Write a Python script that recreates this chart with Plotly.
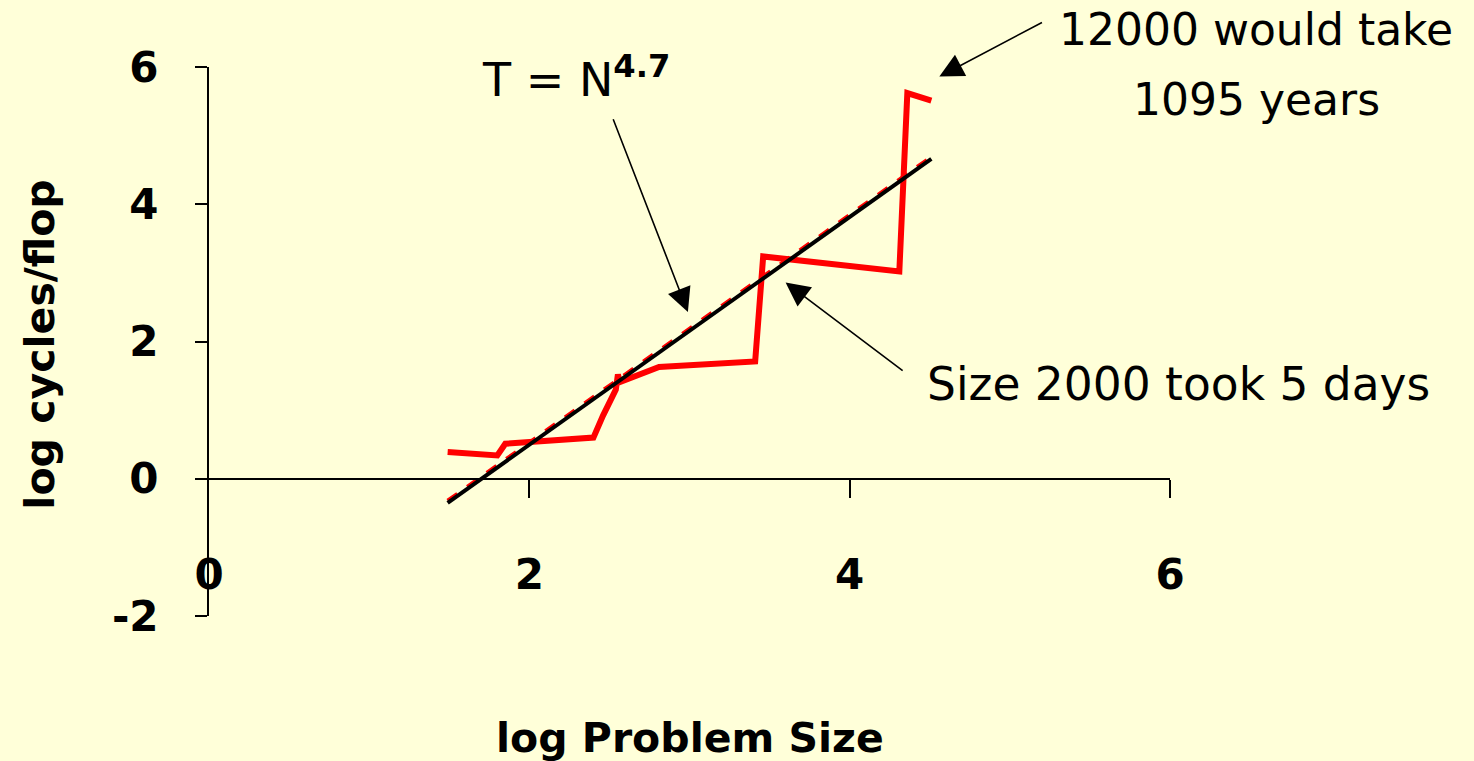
import plotly.graph_objects as go

# Measured run time per problem size (log scale)
log_size = [1.49, 1.80, 1.85, 2.40, 2.46, 2.54, 2.553, 2.566, 2.81, 3.41, 3.46, 4.31, 4.36, 4.51]
log_cycles = [0.39, 0.34, 0.51, 0.60, 0.92, 1.30, 1.52, 1.41, 1.63, 1.71, 3.24, 3.02, 5.62, 5.51]

# Power-law fit T = N^4.7 (red dashed trendline and black overlay)
fit_x = [1.49, 4.51]
fit_red = [-0.32, 4.69]
fit_black = [-0.35, 4.66]

x_ticks = [0, 2, 4, 6]
y_ticks = [-2, 0, 2, 4, 6]
y_tick_text = ["-2", "0", "2", "4", "6"]

BG = "#FFFFD9"
FONT = "DejaVu Sans"

fig = go.Figure()
fig.add_trace(go.Scatter(x=log_size, y=log_cycles, mode="lines",
                         line=dict(color="#FF0000", width=6), showlegend=False))
fig.add_trace(go.Scatter(x=fit_x, y=fit_red, mode="lines",
                         line=dict(color="#FF0000", width=4, dash="dash"), showlegend=False))
fig.add_trace(go.Scatter(x=fit_x, y=fit_black, mode="lines",
                         line=dict(color="#000000", width=4), showlegend=False))
# invisible trace so the crossing axis (x2) is drawn
fig.add_trace(go.Scatter(x=[None], y=[None], xaxis="x2", showlegend=False, hoverinfo="skip"))

fig.update_layout(
    width=1474, height=761,
    margin=dict(l=209, r=304, t=67, b=145),
    paper_bgcolor=BG, plot_bgcolor=BG,
    font=dict(family=FONT, color="#000000"),
    xaxis=dict(range=[0, 6], tickvals=x_ticks, showgrid=False, zeroline=False,
               showline=False, ticks="", ticklabelposition="inside",
               ticklabelstandoff=16, ticklabeloverflow="allow",
               tickfont=dict(family=FONT, size=42, weight="bold", color="#000")),
    xaxis2=dict(range=[0, 6], overlaying="x", anchor="free", position=0.25,
                side="bottom", tickvals=[2, 4, 6], showticklabels=False,
                showgrid=False, zeroline=False, showline=True, linecolor="#000",
                linewidth=2, ticks="outside", ticklen=18, tickwidth=2, tickcolor="#000"),
    yaxis=dict(range=[-2, 6], tickvals=y_ticks, ticktext=y_tick_text, showgrid=False,
               zeroline=False, showline=True, linecolor="#000", linewidth=2,
               ticks="outside", ticklen=12, tickwidth=2, tickcolor="#000",
               ticklabelstandoff=28,
               tickfont=dict(family=FONT, size=42, weight="bold", color="#000")),
)

# Axis titles
fig.add_annotation(text="<b>log Problem Size</b>", xref="paper", yref="paper",
                   x=0.5005, y=-0.222, xanchor="center", yanchor="middle",
                   showarrow=False, font=dict(family=FONT, size=41))
fig.add_annotation(text="<b>log cycles/flop</b>", xref="paper", yref="paper",
                   x=-0.176, y=0.494, xanchor="center", yanchor="middle",
                   textangle=-90, showarrow=False, font=dict(family=FONT, size=41))

# Callout texts
fig.add_annotation(text="T = N<sup><b>4.7</b></sup>", x=2.29, y=5.85,
                   xanchor="center", yanchor="middle", showarrow=False,
                   font=dict(family=FONT, size=46))
fig.add_annotation(text="12000 would take", xref="paper", yref="paper",
                   x=1.0895, y=1.0674, xanchor="center", yanchor="middle",
                   showarrow=False, font=dict(family=FONT, size=44))
fig.add_annotation(text="1095 years", xref="paper", yref="paper",
                   x=1.0905, y=0.940, xanchor="center", yanchor="middle",
                   showarrow=False, font=dict(family=FONT, size=44))
fig.add_annotation(text="Size 2000 took 5 days", x=4.47, y=1.37,
                   xanchor="left", yanchor="middle", showarrow=False,
                   font=dict(family=FONT, size=45.5))

# Arrows: (head x, head y, tail x, tail y)
arrows = [(2.99, 2.43, 2.52, 5.26), (3.60, 2.86, 4.34, 1.56), (4.56, 5.86, 5.21, 6.66)]
for hx, hy, tx, ty in arrows:
    fig.add_annotation(text="", x=hx, y=hy, ax=tx, ay=ty, axref="x", ayref="y",
                       showarrow=True, arrowhead=2, arrowsize=3, arrowwidth=1.6,
                       arrowcolor="#000", standoff=0)

fig.write_html("out.html")
